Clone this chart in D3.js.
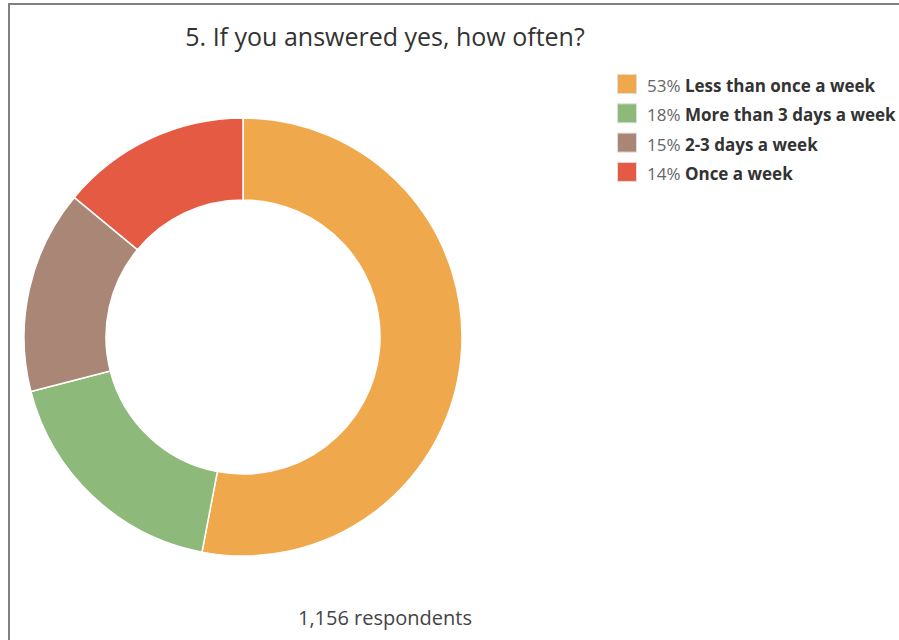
<!DOCTYPE html>
<html>
<head>
<meta charset="utf-8">
<script src="https://cdn.jsdelivr.net/npm/d3@7"></script>
<style>
body { margin: 0; background: #fff; }
svg { display: block; font-family: "Open Sans", sans-serif; }
</style>
</head>
<body>
<div id="container"></div>
<script>
const width = 899;
const height = 640;
const title = "5. If you answered yes, how often?";
const categories = ["Less than once a week", "More than 3 days a week", "2-3 days a week", "Once a week"];
const percents = [53, 18, 15, 14];
const colors = ["#f0a84c", "#8dba7a", "#a98676", "#e45a43"];
const respondents = "1,156 respondents";

const svg = d3.select("#container")
    .append("svg")
    .attr("width", width)
    .attr("height", height);

// frame, runs off the right and bottom edges
svg.append("rect")
    .attr("x", 9)
    .attr("y", 4)
    .attr("width", 1000)
    .attr("height", 1000)
    .attr("fill", "none")
    .attr("stroke", "#808080")
    .attr("stroke-width", 2);

svg.append("text")
    .attr("x", 385)
    .attr("y", 46)
    .attr("text-anchor", "middle")
    .attr("font-size", 25)
    .attr("fill", "#333")
    .text(title);

const data = categories.map((c, i) => ({ name: c, value: percents[i], color: colors[i] }));
const pie = d3.pie().sort(null).value((d) => d.value);
const arc = d3.arc().innerRadius(137).outerRadius(219);

svg.append("g")
    .attr("transform", "translate(243,337)")
    .selectAll("path")
    .data(pie(data))
    .enter()
    .append("path")
    .attr("d", arc)
    .attr("fill", (d) => d.data.color)
    .attr("stroke", "#fff")
    .attr("stroke-width", 1.5);

const legend = svg.append("g")
    .attr("transform", "translate(617,74)");
const rows = legend.selectAll("g")
    .data(data)
    .enter()
    .append("g")
    .attr("transform", (d, i) => `translate(0,${i * 29.3})`);
rows.append("rect")
    .attr("x", 0.5)
    .attr("y", 0.5)
    .attr("width", 19)
    .attr("height", 19)
    .attr("fill", (d) => d.color)
    .attr("stroke", "#ddd");
const lt = rows.append("text")
    .attr("x", 30)
    .attr("y", 18)
    .attr("font-size", 17);
lt.append("tspan")
    .attr("fill", "#666")
    .text((d) => d.value + "% ");
lt.append("tspan")
    .attr("fill", "#333")
    .attr("font-weight", "bold")
    .text((d) => d.name);

svg.append("text")
    .attr("x", 385)
    .attr("y", 625)
    .attr("text-anchor", "middle")
    .attr("font-size", 20)
    .attr("fill", "#444")
    .text(respondents);
</script>
</body>
</html>
